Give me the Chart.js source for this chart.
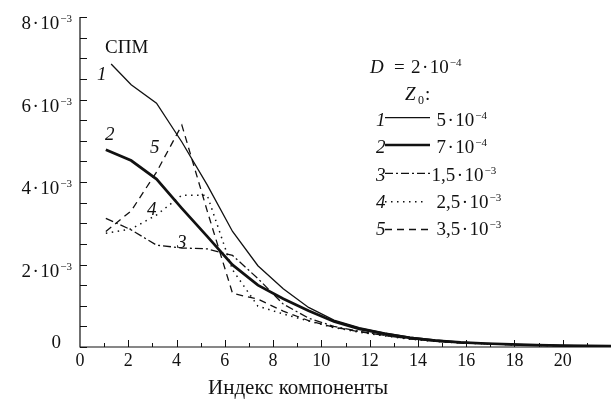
<!DOCTYPE html>
<html lang="ru">
<head>
<meta charset="UTF-8">
<title>СПМ</title>
<script src="https://cdn.jsdelivr.net/npm/chart.js"></script>
<style>
    body { margin: 0; background: #fff; }
    #wrap { width: 611px; height: 399px; position: relative; }
    #probe { position: absolute; left: -999px; top: 0; font-family: "Liberation Serif", serif; }
</style>
</head>
<body>
<div id="wrap"><canvas id="chart"></canvas></div>
<span id="probe">Индекс <i>1</i></span>
<script>
    // component positions (the curves sit ~1.05 apart)
    const xPos = [1.07, 2.12, 3.17, 4.22, 5.27, 6.32, 7.37, 8.42, 9.47, 10.52, 11.57,
                  12.62, 13.67, 14.72, 15.77, 16.82, 17.87, 18.92, 19.97, 21.02, 22.07];
    const xStart1 = 1.29;   // curve 1 begins a bit later

    // spectral values, units of 1e-3
    const s1 = [6.86, 6.36, 5.91, 4.97, 3.93, 2.80, 1.97, 1.41, 0.96, 0.65, 0.47,
                0.34, 0.24, 0.17, 0.12, 0.09, 0.065, 0.048, 0.036, 0.028, 0.022];
    const s2 = [4.78, 4.52, 4.07, 3.36, 2.68, 1.99, 1.50, 1.17, 0.88, 0.62, 0.44,
                0.32, 0.22, 0.155, 0.11, 0.085, 0.062, 0.046, 0.035, 0.027, 0.021];
    const s3 = [3.12, 2.84, 2.47, 2.40, 2.38, 2.22, 1.66, 1.04, 0.70, 0.50, 0.38,
                0.28, 0.20, 0.14, 0.10, 0.078, 0.057, 0.042, 0.032, 0.025, 0.02];
    const s4 = [2.76, 2.86, 3.20, 3.68, 3.68, 1.87, 0.99, 0.80, 0.63, 0.47, 0.36,
                0.27, 0.19, 0.135, 0.10, 0.075, 0.055, 0.04, 0.031, 0.024, 0.019];
    const s5 = [2.80, 3.30, 4.24, 5.38, 3.30, 1.30, 1.16, 0.87, 0.64, 0.48, 0.37,
                0.28, 0.20, 0.14, 0.10, 0.077, 0.056, 0.041, 0.031, 0.024, 0.019];

    const xTicks = [0, 2, 4, 6, 8, 10, 12, 14, 16, 18, 20];
    const yTicks = [0, 2, 4, 6, 8];
    const z0Mant = ['5', '7', '1,5', '2,5', '3,5'];
    const z0Exp = ['\u22124', '\u22124', '\u22123', '\u22123', '\u22123'];

    const SERIF = '"Liberation Serif", "Times New Roman", "DejaVu Serif", serif';
    const INK = '#111';

    const styles = [
        { w: 1.3, dash: [] },
        { w: 2.7, dash: [] },
        { w: 1.3, dash: [8, 3, 2, 3] },
        { w: 1.5, dash: [1.5, 4.5] },
        { w: 1.3, dash: [7, 5] }
    ];

    function pts(ys, first) {
        return ys.map((y, i) => ({ x: (i === 0 && first !== undefined) ? first : xPos[i], y: y }));
    }

    function drawSci(ctx, mant, exp, x, y, align, size) {
        const f = size + 'px ' + SERIF, fe = Math.round(size * 0.6) + 'px ' + SERIF;
        ctx.font = f;
        const wm = ctx.measureText(mant).width, wd = ctx.measureText('\u00b7').width, w10 = ctx.measureText('10').width;
        ctx.font = fe;
        const we = ctx.measureText(exp).width;
        const pad = 1.5;
        const total = wm + pad + wd + pad + w10 + 1 + we;
        let cx = align === 'right' ? x - total : x;
        ctx.textAlign = 'left';
        ctx.textBaseline = 'alphabetic';
        ctx.font = f;
        ctx.fillText(mant, cx, y); cx += wm + pad;
        ctx.fillText('\u00b7', cx, y); cx += wd + pad;
        ctx.fillText('10', cx, y); cx += w10 + 1;
        ctx.font = fe;
        ctx.fillText(exp, cx, y - size * 0.36);
    }

    const decor = {
        id: 'decor',
        afterDraw(chart) {
            const ctx = chart.ctx, xs = chart.scales.x, ys = chart.scales.y, a = chart.chartArea;
            ctx.save();
            ctx.strokeStyle = INK;
            ctx.fillStyle = INK;
            ctx.lineWidth = 1.2;
            ctx.setLineDash([]);
            // axes
            ctx.beginPath();
            ctx.moveTo(a.left, a.top);
            ctx.lineTo(a.left, a.bottom);
            ctx.lineTo(a.right, a.bottom);
            ctx.stroke();
            // inward ticks
            ctx.lineWidth = 1;
            ctx.beginPath();
            for (let v = 0; v <= 8; v += 0.5) {
                const py = Math.round(ys.getPixelForValue(v)) + 0.5;
                ctx.moveTo(a.left, py);
                ctx.lineTo(a.left + 7, py);
            }
            for (let v = 1; v <= 21; v++) {
                const px = Math.round(xs.getPixelForValue(v)) + 0.5;
                ctx.moveTo(px, a.bottom);
                ctx.lineTo(px, a.bottom - (v % 2 === 0 ? 7 : 4));
            }
            ctx.stroke();

            // y tick labels
            yTicks.forEach(v => {
                const py = ys.getPixelForValue(v);
                if (v === 0) {
                    ctx.font = '19px ' + SERIF;
                    ctx.textAlign = 'right';
                    ctx.fillText('0', 61, py + 1);
                } else {
                    drawSci(ctx, String(v), '\u22123', 72, py + 12, 'right', 19);
                }
            });
            // x tick labels
            ctx.font = '18px ' + SERIF;
            ctx.textAlign = 'center';
            xTicks.forEach(v => ctx.fillText(String(v), xs.getPixelForValue(v), 366));
            ctx.font = '21px ' + SERIF;
            ctx.fillText('Индекс компоненты', 298, 394);

            // curve labels
            ctx.textAlign = 'left';
            ctx.font = '19px ' + SERIF;
            ctx.fillText('СПМ', xs.getPixelForValue(1.04), ys.getPixelForValue(7.13));
            ctx.font = 'italic 19px ' + SERIF;
            [['1', 0.70, 6.47], ['2', 1.04, 5.02], ['5', 2.90, 4.70], ['4', 2.78, 3.20], ['3', 4.02, 2.40]]
                .forEach(l => ctx.fillText(l[0], xs.getPixelForValue(l[1]), ys.getPixelForValue(l[2])));

            // legend block
            ctx.font = 'italic 19px ' + SERIF;
            ctx.fillText('D', 370, 73);
            ctx.font = '19px ' + SERIF;
            ctx.fillText('=', 394, 73);
            drawSci(ctx, '2', '\u22124', 411, 73, 'left', 19);
            ctx.font = 'italic 19px ' + SERIF;
            ctx.fillText('Z', 405, 100);
            ctx.font = '12px ' + SERIF;
            ctx.fillText('0', 418, 104);
            ctx.font = '19px ' + SERIF;
            ctx.fillText(':', 425, 100);

            const rowY = [126, 153.3, 180.5, 207.8, 235];
            const lineY = [117.7, 145, 173.3, 201.7, 229.5];
            rowY.forEach((by, i) => {
                ctx.font = 'italic 19px ' + SERIF;
                ctx.textAlign = 'left';
                ctx.fillText(String(i + 1), 376, by);
                ctx.lineWidth = styles[i].w;
                ctx.setLineDash(styles[i].dash);
                ctx.beginPath();
                ctx.moveTo(385, lineY[i]);
                ctx.lineTo(i === 3 ? 426 : 430, lineY[i]);
                ctx.stroke();
                ctx.setLineDash([]);
                drawSci(ctx, z0Mant[i], z0Exp[i], i === 2 ? 431.5 : 436.5, by, 'left', 19);
            });
            ctx.restore();
        }
    };

    const series = [pts(s1, xStart1), pts(s2), pts(s3), pts(s4), pts(s5)];

    function build() {
        new Chart(document.getElementById('chart'), {
            type: 'line',
            data: {
                datasets: series.map((d, i) => ({
                    data: d,
                    borderColor: INK,
                    borderWidth: styles[i].w,
                    borderDash: styles[i].dash,
                    pointRadius: 0,
                    tension: 0,
                    fill: false
                }))
            },
            options: {
                responsive: true,
                maintainAspectRatio: false,
                animation: false,
                layout: { padding: { left: 80, right: 0, top: 17, bottom: 52 } },
                plugins: { legend: { display: false }, tooltip: { enabled: false } },
                scales: {
                    x: { type: 'linear', min: 0, max: 22, display: false },
                    y: { type: 'linear', min: 0, max: 8, display: false }
                }
            },
            plugins: [decor]
        });
    }

    Promise.all([
        document.fonts.load('19px "Liberation Serif"'),
        document.fonts.load('italic 19px "Liberation Serif"')
    ]).then(build, build);
</script>
</body>
</html>
